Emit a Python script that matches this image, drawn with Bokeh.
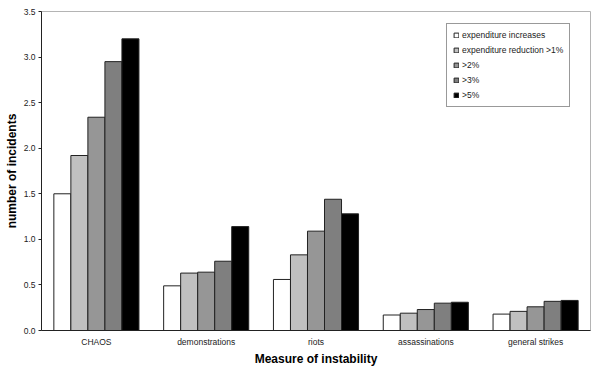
from bokeh.plotting import figure
from bokeh.models import (FactorRange, Range1d, FixedTicker, NumeralTickFormatter,
                          Legend, LegendItem, ColumnDataSource)
from bokeh.transform import dodge
from bokeh.embed import file_html
from bokeh.resources import INLINE

categories = ["CHAOS", "demonstrations", "riots", "assassinations", "general strikes"]
series_names = ["expenditure increases", "expenditure reduction >1%", ">2%", ">3%", ">5%"]
exp_increases = [1.50, 0.49, 0.56, 0.17, 0.18]
reduction_1 = [1.92, 0.63, 0.83, 0.19, 0.21]
reduction_2 = [2.34, 0.64, 1.09, 0.23, 0.26]
reduction_3 = [2.95, 0.76, 1.44, 0.30, 0.32]
reduction_5 = [3.20, 1.14, 1.28, 0.31, 0.33]
y_ticks = [0.0, 0.5, 1.0, 1.5, 2.0, 2.5, 3.0, 3.5]

colors = ["#ffffff", "#c0c0c0", "#969696", "#7f7f7f", "#000000"]
series = [exp_increases, reduction_1, reduction_2, reduction_3, reduction_5]
keys = ["s0", "s1", "s2", "s3", "s4"]

data = {"cat": categories}
for k, s in zip(keys, series):
    data[k] = s
source = ColumnDataSource(data)

FONT = "Liberation Sans"

p = figure(x_range=FactorRange(*categories), y_range=Range1d(0, 3.5),
           width=591, height=368, output_backend="svg", toolbar_location=None,
           min_border_left=41, min_border_right=1, min_border_top=11,
           min_border_bottom=38)
p.xgrid.visible = False
p.ygrid.visible = False
p.outline_line_color = "#b4b4b4"
p.outline_line_width = 1
p.background_fill_color = "white"
p.border_fill_color = "white"

bw = 0.155
offsets = [-2 * bw, -bw, 0.0, bw, 2 * bw]
items = []
for k, off, c, name in zip(keys, offsets, colors, series_names):
    r = p.vbar(x=dodge("cat", off, range=p.x_range), top=k, width=bw, source=source,
               fill_color=c, line_color="#222222", line_width=1)
    items.append(LegendItem(label=name, renderers=[r]))

legend = Legend(items=items, location=(405, 223))
legend.label_text_font = FONT
legend.label_text_font_size = "8.5px"
legend.label_text_color = "#222222"
legend.glyph_width = 6
legend.glyph_height = 6
legend.label_height = 10
legend.label_standoff = 3
legend.spacing = 5
legend.padding = 6
legend.margin = 0
legend.border_line_color = "#333333"
legend.border_line_width = 1
legend.background_fill_color = "white"
legend.background_fill_alpha = 1
p.add_layout(legend)

ya = p.yaxis[0]
ya.ticker = FixedTicker(ticks=y_ticks)
ya.formatter = NumeralTickFormatter(format="0.0")
ya.major_tick_out = 3
ya.major_tick_in = 0
ya.minor_tick_line_color = None
ya.major_label_standoff = 3
ya.major_label_text_font = FONT
ya.major_label_text_font_size = "8.5px"
ya.major_label_text_color = "#222222"
ya.axis_line_color = "#222222"
ya.major_tick_line_color = "#222222"
ya.axis_label = "number of incidents"
ya.axis_label_text_font = FONT
ya.axis_label_text_font_style = "bold"
ya.axis_label_text_font_size = "12px"
ya.axis_label_text_color = "#000000"
ya.axis_label_standoff = 2

xa = p.xaxis[0]
xa.major_tick_line_color = None
xa.minor_tick_line_color = None
xa.major_tick_out = 0
xa.major_tick_in = 0
xa.major_label_standoff = 6
xa.major_label_text_font = FONT
xa.major_label_text_font_size = "8.5px"
xa.major_label_text_color = "#222222"
xa.axis_line_color = "#222222"
xa.axis_label = "Measure of instability"
xa.axis_label_text_font = FONT
xa.axis_label_text_font_style = "bold"
xa.axis_label_text_font_size = "12px"
xa.axis_label_text_color = "#000000"
xa.axis_label_standoff = 2

open("out.html", "w").write(file_html(p, INLINE))
